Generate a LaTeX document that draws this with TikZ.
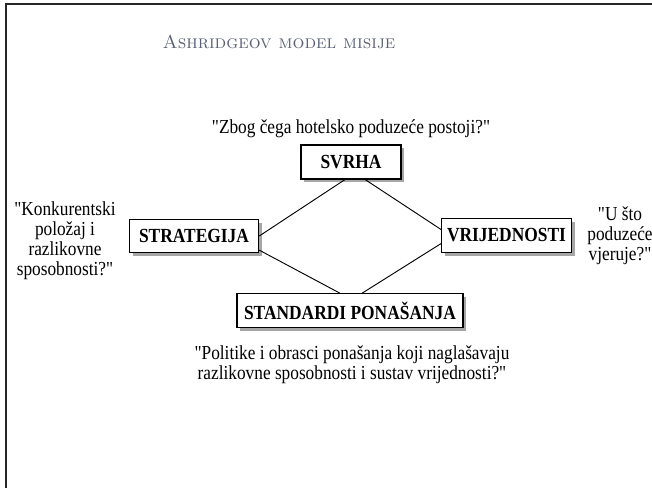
\documentclass[tikz,border=0pt]{standalone}
\usepackage{fontspec}
\newfontfamily\tnr[FakeStretch=0.87]{Liberation Serif}
\usetikzlibrary{shadows,calc}
\definecolor{titlegrey}{RGB}{88,96,116}
\tikzset{
  box/.style={draw, fill=white, line width=0.9pt, inner sep=0pt,
    font=\tnr\fontsize{15}{17}\selectfont\bfseries,
    general shadow={fill=gray!70, shadow xshift=2.6pt, shadow yshift=-2.6pt}},
  quote/.style={font=\tnr\fontsize{14.9}{15}\selectfont, align=center, inner sep=0pt},
  conn/.style={line width=0.7pt},
  frameline/.style={line width=2.2pt, color=black!85}
}
\begin{document}
\begin{tikzpicture}[x=0.75pt,y=-0.75pt]
\useasboundingbox (0,0) rectangle (652,488);
\begin{scope}
\clip (0,0) rectangle (652,488);
\draw[frameline] (6,488) -- (6,4) -- (652,4);
\node[color=titlegrey, font=\fontsize{14}{17}\selectfont\scshape, inner sep=0pt] (title) at (279,42) {Ashridgeov model misije};
\node[quote] (qtop) at (351,129) {"Zbog čega hotelsko poduzeće postoji?"};
\node[box, minimum width=75pt, minimum height=25.5pt] (svrha) at (351,162) {SVRHA};
\node[box, minimum width=97pt, minimum height=25pt] (strat) at (194,236) {STRATEGIJA};
\node[box, minimum width=97pt, minimum height=25pt] (vrij) at (506.5,235.5) {VRIJEDNOSTI};
\node[box, minimum width=169.5pt, minimum height=25pt] (stand) at (350,310.5) {STANDARDI PONAŠANJA};
\node[quote] (qleft) at (65,241) {"Konkurentski\\položaj i\\razlikovne\\sposobnosti?"};
\node[quote] (qright) at (620,236) {"U što\\poduzeće\\vjeruje?"};
\node[quote] (qbot) at (352,365) {"Politike i obrasci ponašanja koji naglašavaju\\razlikovne sposobnosti i sustav vrijednosti?"};
\draw[conn] ($(svrha.south west)!0.44!(svrha.south east)$) -- (strat.east);
\draw[conn] ($(svrha.south west)!0.64!(svrha.south east)$) -- ($(vrij.north west)!0.33!(vrij.south west)$);
\draw[conn] ($(strat.north east)!0.91!(strat.south east)$) -- ($(stand.north west)!0.456!(stand.north east)$);
\draw[conn] ($(vrij.north west)!0.73!(vrij.south west)$) -- ($(stand.north west)!0.553!(stand.north east)$);
\end{scope}
\end{tikzpicture}
\end{document}
